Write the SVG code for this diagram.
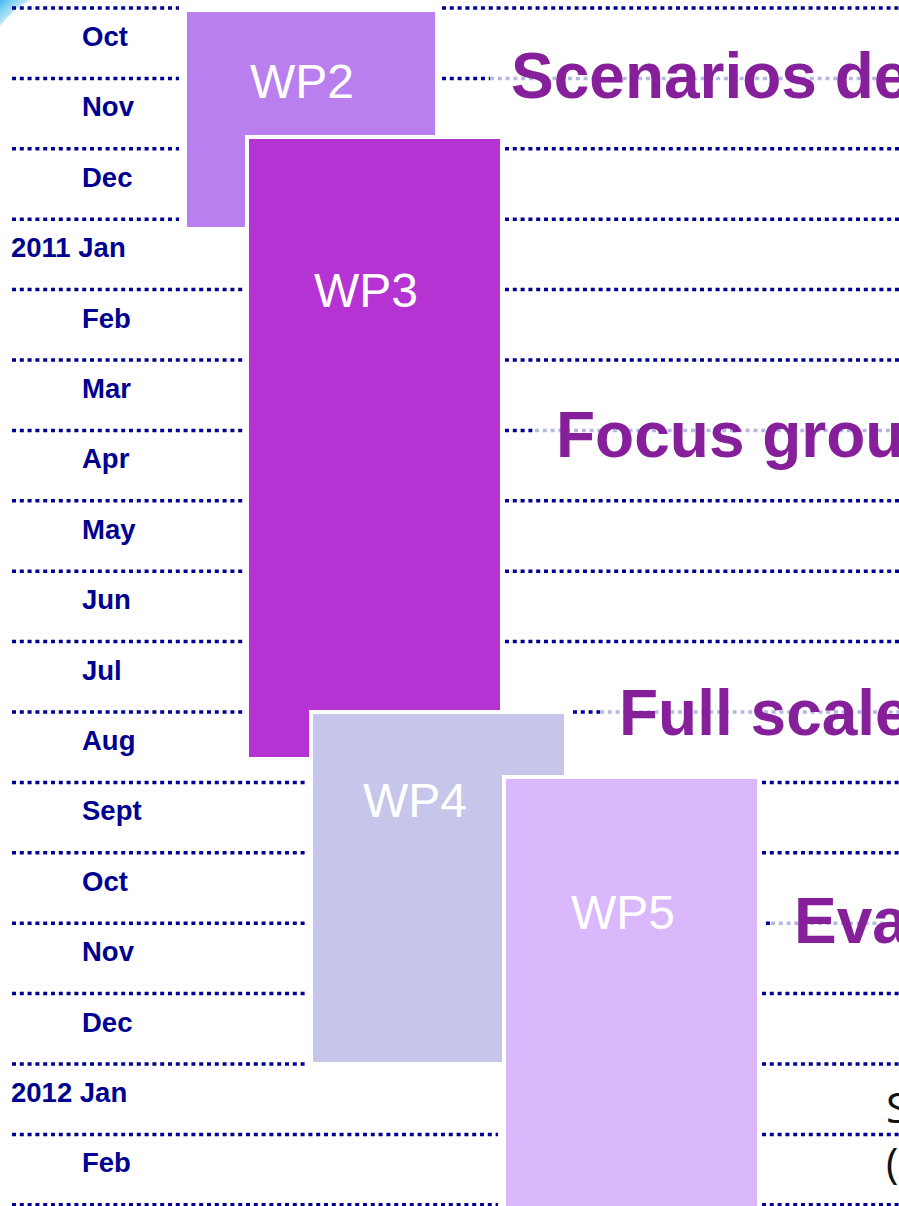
<svg xmlns="http://www.w3.org/2000/svg" width="899" height="1206" viewBox="0 0 899 1206">
  <style>
    .grid { stroke: #000096; stroke-width: 3.5; stroke-dasharray: 4 3.8; fill: none; }
    .lead { stroke: #b6b8e4; stroke-width: 3.5; stroke-dasharray: 4 3.8; fill: none; }
    .month { font-family: "Liberation Sans", Arial, sans-serif; font-weight: bold; font-size: 27.5px; fill: #000090; }
    .wp { stroke: #ffffff; stroke-width: 4; }
    .wplabel { font-family: "Liberation Sans", Arial, sans-serif; font-size: 48px; fill: #ffffff; }
    .title { font-family: "Liberation Sans", Arial, sans-serif; font-weight: bold; font-size: 64px; fill: #85209a; }
    .note { font-family: "Open Sans", "Liberation Sans", sans-serif; font-size: 42px; fill: #111111; }
  </style>
  <defs>
    <linearGradient id="swoosh" x1="0" y1="0" x2="1" y2="1">
      <stop offset="0" stop-color="#3fb8ec"/>
      <stop offset="1" stop-color="#bfe8fa" stop-opacity="0"/>
    </linearGradient>
  </defs>

  <rect width="899" height="1206" fill="#ffffff"/>

  <!-- corner ornament -->
  <path d="M0,0 L30,0 Q14,8 0,26 Z" fill="url(#swoosh)"/>

  <!-- month grid lines -->
  <g id="grid">
    <path class="grid" d="M12,8 H179 M442,8 H899"/>
    <path class="grid" d="M12,78.4 H179 M442,78.4 H490"/>
    <path class="grid" d="M12,148.8 H179 M505,148.8 H899"/>
    <path class="grid" d="M12,219.2 H179 M505,219.2 H899"/>
    <path class="grid" d="M12,289.6 H244 M505,289.6 H899"/>
    <path class="grid" d="M12,360 H244 M505,360 H899"/>
    <path class="grid" d="M12,430.4 H244 M505,430.4 H535"/>
    <path class="grid" d="M12,500.8 H244 M505,500.8 H899"/>
    <path class="grid" d="M12,571.2 H244 M505,571.2 H899"/>
    <path class="grid" d="M12,641.6 H244 M505,641.6 H899"/>
    <path class="grid" d="M12,712 H244 M573,712 H600"/>
    <path class="grid" d="M12,782.4 H306 M762,782.4 H899"/>
    <path class="grid" d="M12,852.8 H306 M762,852.8 H899"/>
    <path class="grid" d="M12,923.2 H306 M766,923.2 H771"/>
    <path class="grid" d="M12,993.6 H306 M762,993.6 H899"/>
    <path class="grid" d="M12,1064 H306 M762,1064 H899"/>
    <path class="grid" d="M12,1134.4 H498 M762,1134.4 H899"/>
    <path class="grid" d="M12,1204.8 H498 M762,1204.8 H899"/>
  </g>

  <!-- month labels -->
  <g id="months">
    <text class="month" x="82" y="46">Oct</text>
    <text class="month" x="82" y="116.4">Nov</text>
    <text class="month" x="82" y="186.8">Dec</text>
    <text class="month" x="11" y="257.2">2011 Jan</text>
    <text class="month" x="82" y="327.6">Feb</text>
    <text class="month" x="82" y="398">Mar</text>
    <text class="month" x="82" y="468.4">Apr</text>
    <text class="month" x="82" y="538.8">May</text>
    <text class="month" x="82" y="609.2">Jun</text>
    <text class="month" x="82" y="679.6">Jul</text>
    <text class="month" x="82" y="750">Aug</text>
    <text class="month" x="82" y="820.4">Sept</text>
    <text class="month" x="82" y="890.8">Oct</text>
    <text class="month" x="82" y="961.2">Nov</text>
    <text class="month" x="82" y="1031.6">Dec</text>
    <text class="month" x="11" y="1102">2012 Jan</text>
    <text class="month" x="82" y="1172.4">Feb</text>
  </g>

  <!-- leaders from work packages to phase titles -->
  <g id="connectors">
    <path class="lead" d="M490,78.4 H899"/>
    <path class="lead" d="M535,430.4 H899"/>
    <path class="lead" d="M600,712 H899"/>
    <path class="lead" d="M771,923.2 H899"/>
  </g>

  <!-- work packages -->
  <g id="wp2">
    <rect class="wp" x="185" y="10" width="252" height="219" fill="#ba7fee" stroke-width="1"/>
    <text class="wplabel" x="250" y="98">WP2</text>
  </g>
  <g id="wp3">
    <rect class="wp" x="247" y="137" width="255" height="622" fill="#b532d3"/>
    <text class="wplabel" x="314" y="307">WP3</text>
  </g>
  <g id="wp4">
    <rect class="wp" x="311" y="712" width="255" height="352" fill="#c6c6ea"/>
    <text class="wplabel" x="363" y="817">WP4</text>
  </g>
  <g id="wp5">
    <rect class="wp" x="504" y="777" width="255" height="440" fill="#dab8fb"/>
    <text class="wplabel" x="571" y="929">WP5</text>
  </g>

  <!-- phase titles -->
  <g id="titles">
    <text class="title" x="511" y="98">Scenarios de</text>
    <text class="title" x="556" y="457">Focus grou</text>
    <text class="title" x="619" y="735">Full scale</text>
    <text class="title" x="794" y="943">Eva</text>
  </g>

  <g id="notes">
    <text class="note" x="886" y="1123">S</text>
    <text class="note" x="886" y="1178">(</text>
  </g>
</svg>
